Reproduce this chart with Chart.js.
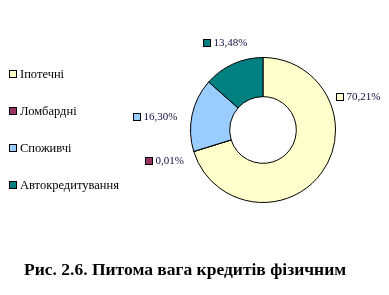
<!DOCTYPE html>
<html><head><meta charset="utf-8">
<script src="https://cdn.jsdelivr.net/npm/chart.js@4"></script>
<style>
html,body{margin:0;padding:0;background:#fff;width:389px;height:295px;overflow:hidden}
#c{position:absolute;left:0;top:0}
#title{position:absolute;left:24px;top:259px;white-space:nowrap;font:bold 17.5px "Liberation Serif",serif;color:#000}
</style></head>
<body>
<canvas id="c" width="389" height="295"></canvas>
<div id="title">Рис. 2.6. Питома вага кредитів фізичним</div>
<script>
const categories = ['Іпотечні', 'Ломбардні', 'Споживчі', 'Автокредитування'];
const shares = [70.21, 0.01, 16.30, 13.48];
const valueLabels = ['70,21%', '0,01%', '16,30%', '13,48%'];
const sliceColors = ['#FFFFCC', '#993366', '#99CCFF', '#008080'];
// label box offsets (px) relative to the slice's outer mid-point
const labelOffsets = [[15, -76], [-49, 10], [-59, 2], [-30, -21]];

const overlay = {
  id: 'overlay',
  afterDatasetsDraw(chart) {
    const ctx = chart.ctx;
    ctx.save();
    // legend
    ctx.font = '12.5px "Liberation Serif", serif';
    ctx.textBaseline = 'middle';
    const legendY = [74, 111, 148, 185];
    chart.data.labels.forEach((lab, i) => {
      const y = legendY[i];
      ctx.fillStyle = sliceColors[i];
      ctx.fillRect(9.5, y - 3.5, 7, 7);
      ctx.strokeStyle = '#000';
      ctx.lineWidth = 1;
      ctx.strokeRect(9.5, y - 3.5, 7, 7);
      ctx.fillStyle = '#000';
      ctx.fillText(lab, 20, y + 0.5);
    });
    // value labels
    const meta = chart.getDatasetMeta(0);
    meta.data.forEach((arc, i) => {
      const p = arc.getProps(['x', 'y', 'startAngle', 'endAngle', 'outerRadius'], true);
      const mid = (p.startAngle + p.endAngle) / 2;
      const ax = p.x + Math.cos(mid) * p.outerRadius + labelOffsets[i][0];
      const ay = p.y + Math.sin(mid) * p.outerRadius + labelOffsets[i][1];
      const sx = Math.round(ax) + 0.5, sy = Math.round(ay) - 3.5;
      ctx.fillStyle = sliceColors[i];
      ctx.fillRect(sx, sy, 7, 7);
      ctx.strokeStyle = '#000';
      ctx.strokeRect(sx, sy, 7, 7);
      ctx.fillStyle = '#0d0d40';
      ctx.font = '11px "Liberation Serif", serif';
      ctx.fillText(valueLabels[i], sx + 10, Math.round(ay) + 0.5);
    });
    ctx.restore();
  }
};

new Chart(document.getElementById('c'), {
  type: 'doughnut',
  data: {
    labels: categories,
    datasets: [{
      data: shares,
      backgroundColor: sliceColors,
      borderColor: '#000',
      borderWidth: 1,
      borderJoinStyle: 'miter'
    }]
  },
  options: {
    responsive: false,
    animation: false,
    cutout: '46%',
    layout: { padding: { left: 190, right: 53, top: 57, bottom: 92 } },
    plugins: { legend: { display: false }, tooltip: { enabled: false } }
  },
  plugins: [overlay]
});
</script>
</body></html>
